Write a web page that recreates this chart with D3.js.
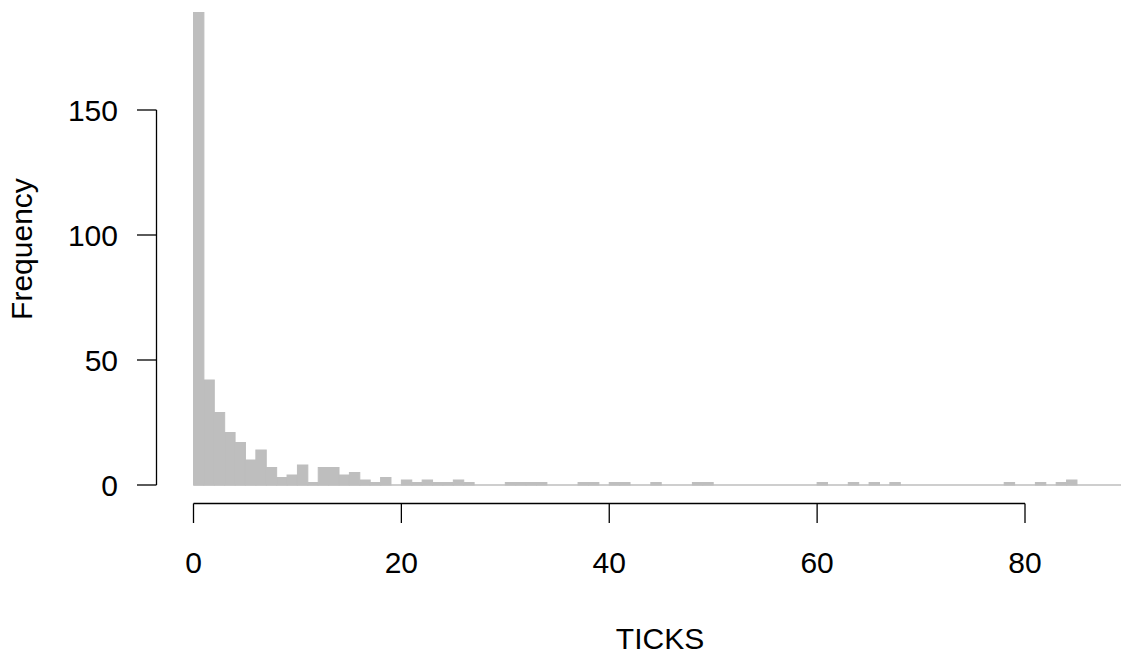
<!DOCTYPE html>
<html>
<head>
<meta charset="utf-8">
<script src="https://cdn.jsdelivr.net/npm/d3@7"></script>
<style>
  body { margin: 0; background: #fff; }
  text { font-family: "Liberation Sans", Arial, sans-serif; fill: #000; }
</style>
</head>
<body>
<div id="chart"></div>
<script>
// histogram bins: [binStart[i], binStart[i]+1)
var binStart = d3.range(0, 90);
var counts = [
  189, 42, 29, 21, 17, 10, 14, 7, 3, 4,
  8, 1, 7, 7, 4, 5, 2, 1, 3, 0,
  2, 1, 2, 1, 1, 2, 1, 0, 0, 0,
  1, 1, 1, 1, 0, 0, 0, 1, 1, 0,
  1, 1, 0, 0, 1, 0, 0, 0, 1, 1,
  0, 0, 0, 0, 0, 0, 0, 0, 0, 0,
  1, 0, 0, 1, 0, 1, 0, 1, 0, 0,
  0, 0, 0, 0, 0, 0, 0, 0, 1, 0,
  0, 1, 0, 1, 2, 0, 0, 0, 0, 0
];
var xTicks = [0, 20, 40, 60, 80];
var yTicks = [0, 50, 100, 150];

var width = 1121, height = 654;

var svg = d3.select("#chart")
  .append("svg")
    .attr("width", width)
    .attr("height", height);

// scales (R-style plot region with 4% padding)
var x = d3.scaleLinear().domain([0, 80]).range([193.5, 1025]);
var y = d3.scaleLinear().domain([0, 150]).range([485, 110]);

var barColor = "#bebebe";

// zero-height bins still show as a thin line in R
svg.append("line")
  .attr("x1", x(binStart[0]))
  .attr("x2", x(binStart[binStart.length - 1] + 1))
  .attr("y1", y(0)).attr("y2", y(0))
  .style("stroke", barColor)
  .style("stroke-width", 1.5);

// bars
svg.selectAll("rect.bar")
  .data(binStart)
  .enter()
  .append("rect")
    .attr("class", "bar")
    .attr("x", function(d) { return x(d); })
    .attr("width", function(d) { return x(d + 1) - x(d); })
    .attr("y", function(d, i) { return y(counts[i]); })
    .attr("height", function(d, i) { return y(0) - y(counts[i]); })
    .style("fill", barColor)
    .style("stroke", barColor)
    .style("stroke-width", 1);

// x axis
var xAxis = svg.append("g");
xAxis.append("line")
  .attr("x1", x(xTicks[0])).attr("x2", x(xTicks[xTicks.length - 1]))
  .attr("y1", 503.5).attr("y2", 503.5)
  .style("stroke", "#000").style("stroke-width", 1.3);
xAxis.selectAll("line.tick")
  .data(xTicks)
  .enter()
  .append("line")
    .attr("class", "tick")
    .attr("x1", function(d) { return x(d); })
    .attr("x2", function(d) { return x(d); })
    .attr("y1", 503.5).attr("y2", 523)
    .style("stroke", "#000").style("stroke-width", 1.3);
xAxis.selectAll("text")
  .data(xTicks)
  .enter()
  .append("text")
    .attr("x", function(d) { return x(d); })
    .attr("y", 573)
    .attr("text-anchor", "middle")
    .style("font-size", "30px")
    .text(function(d) { return d; });

// y axis
var yAxis = svg.append("g");
yAxis.append("line")
  .attr("x1", 156.5).attr("x2", 156.5)
  .attr("y1", y(yTicks[0])).attr("y2", y(yTicks[yTicks.length - 1]))
  .style("stroke", "#000").style("stroke-width", 1.3);
yAxis.selectAll("line.tick")
  .data(yTicks)
  .enter()
  .append("line")
    .attr("class", "tick")
    .attr("x1", 137).attr("x2", 156.5)
    .attr("y1", function(d) { return y(d); })
    .attr("y2", function(d) { return y(d); })
    .style("stroke", "#000").style("stroke-width", 1.3);
yAxis.selectAll("text")
  .data(yTicks)
  .enter()
  .append("text")
    .attr("x", 118)
    .attr("y", function(d) { return y(d); })
    .attr("dy", "0.36em")
    .attr("text-anchor", "end")
    .style("font-size", "30px")
    .text(function(d) { return d; });

// axis titles
svg.append("text")
  .attr("x", 660)
  .attr("y", 649)
  .attr("text-anchor", "middle")
  .style("font-size", "30px")
  .text("TICKS");

svg.append("text")
  .attr("transform", "translate(32,249) rotate(-90)")
  .attr("text-anchor", "middle")
  .style("font-size", "30px")
  .text("Frequency");
</script>
</body>
</html>
